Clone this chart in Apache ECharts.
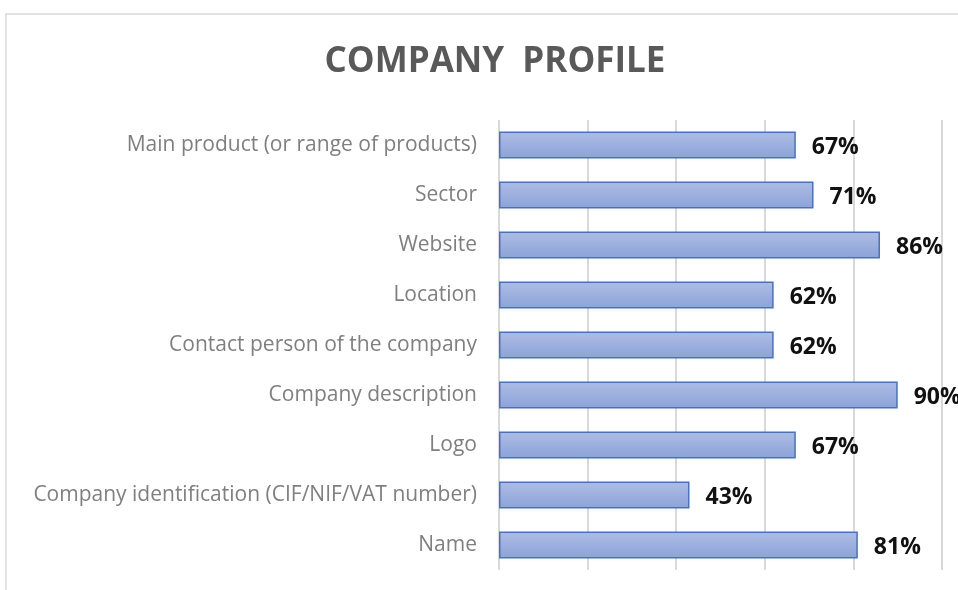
<!DOCTYPE html>
<html lang="en">
<head>
    <meta charset="UTF-8"/>
    <script src="https://cdn.jsdelivr.net/npm/echarts@6/dist/echarts.min.js"></script>
    <title>Company profile</title>
    <style>
        html, body { margin: 0; padding: 0; background: #fff; }
    </style>
</head>
<body>
<div id="main" style="width: 958px;height:590px;"></div>
<script type="text/javascript">
    // data, top to bottom as in the picture
    var categories = [
        'Main product (or range of products)',
        'Sector',
        'Website',
        'Location',
        'Contact person of the company',
        'Company description',
        'Logo',
        'Company identification (CIF/NIF/VAT number)',
        'Name'
    ];
    var values = [67, 71, 86, 62, 62, 90, 67, 43, 81];
    var xTicks = [0, 20, 40, 60, 80, 100];

    var myChart = echarts.init(document.getElementById('main'));

    var option = {
        backgroundColor: '#ffffff',
        animation: false,
        title: {
            text: 'COMPANY  PROFILE',
            left: 490,
            textAlign: 'center',
            top: 40,
            textStyle: {
                color: '#595959',
                fontSize: 35,
                fontWeight: 'bold',
                fontFamily: 'Open Sans'
            }
        },
        // outer chart frame
        graphic: [{
            type: 'rect',
            shape: { x: 6, y: 14, width: 1000, height: 1000 },
            style: { fill: 'none', stroke: '#d9d9d9', lineWidth: 1.5 },
            silent: true
        }],
        grid: {
            left: 499,
            right: 16,
            top: 120,
            bottom: 20,
            containLabel: false
        },
        xAxis: {
            type: 'value',
            min: xTicks[0],
            max: xTicks[xTicks.length - 1],
            interval: 20,
            axisLabel: { show: false },
            axisLine: { show: false },
            axisTick: { show: false },
            splitLine: {
                show: true,
                lineStyle: { color: '#d9d9d9', width: 2 }
            }
        },
        yAxis: {
            type: 'category',
            data: categories,
            inverse: true,
            axisLine: { show: false },
            axisTick: { show: false },
            axisLabel: {
                color: '#7f7f7f',
                fontSize: 21,
                fontFamily: 'Open Sans',
                margin: 22,
                padding: [8, 0, 0, 0]
            }
        },
        series: [{
            type: 'bar',
            data: values,
            barWidth: 27,
            itemStyle: {
                color: new echarts.graphic.LinearGradient(0, 0, 0, 1, [
                    { offset: 0, color: '#aebde3' },
                    { offset: 1, color: '#8ba3d9' }
                ]),
                borderColor: '#4472c4',
                borderWidth: 1.5
            },
            label: {
                show: true,
                position: 'right',
                distance: 16,
                offset: [0, 2],
                formatter: '{c}%',
                color: '#111111',
                fontSize: 23,
                fontWeight: 'bold',
                fontFamily: 'Open Sans'
            }
        }]
    };

    myChart.setOption(option);
</script>
</body>
</html>
